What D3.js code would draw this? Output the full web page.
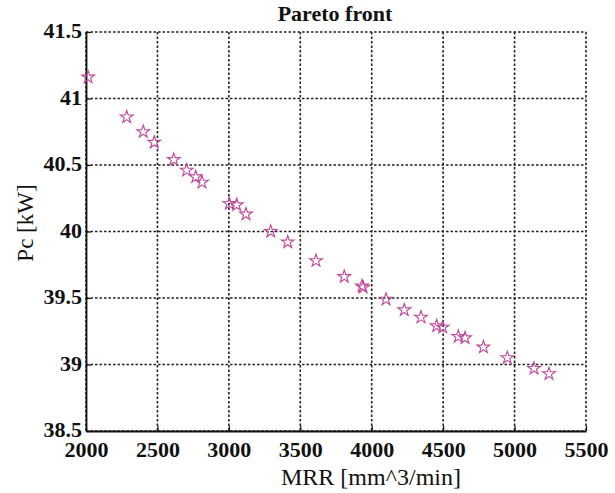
<!DOCTYPE html>
<html>
<head>
<meta charset="utf-8">
<script src="https://cdn.jsdelivr.net/npm/d3@7"></script>
<style>
body { margin: 0; background: #fff; }
text { font-family: "Liberation Serif", "Times New Roman", serif; fill: #111; }
</style>
</head>
<body>
<script>
var mrr = [2015, 2285, 2401, 2478, 2614, 2705, 2768, 2812, 3003, 3055, 3120,
           3293, 3412, 3610, 3808, 3932, 3940, 4100, 4228, 4345, 4455, 4497,
           4606, 4653, 4782, 4949, 5136, 5241];
var pc = [41.16, 40.86, 40.75, 40.67, 40.54, 40.46, 40.41, 40.37, 40.21, 40.20, 40.13,
          40.00, 39.92, 39.78, 39.66, 39.59, 39.58, 39.49, 39.41, 39.355, 39.29, 39.28,
          39.21, 39.20, 39.13, 39.05, 38.97, 38.93];
var xTicks = [2000, 2500, 3000, 3500, 4000, 4500, 5000, 5500];
var yTicks = [38.5, 39, 39.5, 40, 40.5, 41, 41.5];

var w = 615, h = 493;
var padL = 86, padR = 586, padT = 32, padB = 431;

var svg = d3.select("body").append("svg").attr("width", w).attr("height", h);

var x = d3.scaleLinear().domain([2000, 5500]).range([padL, padR]);
var y = d3.scaleLinear().domain([38.5, 41.5]).range([padB, padT]);

// dotted grid
svg.selectAll(".gx").data(xTicks).enter().append("line")
    .attr("x1", function(d) { return x(d); }).attr("x2", function(d) { return x(d); })
    .attr("y1", padT).attr("y2", padB)
    .attr("stroke", "#222").attr("stroke-width", 1.6).attr("stroke-dasharray", "2.5,2");
svg.selectAll(".gy").data(yTicks).enter().append("line")
    .attr("y1", function(d) { return y(d); }).attr("y2", function(d) { return y(d); })
    .attr("x1", padL).attr("x2", padR)
    .attr("stroke", "#222").attr("stroke-width", 1.6).attr("stroke-dasharray", "2.5,2");

// axes
var xAxis = d3.axisBottom(x).tickValues(xTicks).tickSizeInner(-5).tickSizeOuter(0).tickPadding(10)
    .tickFormat(d3.format("d"));
var yAxis = d3.axisLeft(y).tickValues(yTicks).tickSizeInner(-5).tickSizeOuter(0).tickPadding(4)
    .tickFormat(function(d) { return String(d); });

var gx = svg.append("g").attr("transform", "translate(0," + padB + ")").call(xAxis);
var gy = svg.append("g").attr("transform", "translate(" + padL + ",0)").call(yAxis);
[gx, gy].forEach(function(g) {
    g.select(".domain").attr("stroke", "#111").attr("stroke-width", 1.8);
    g.selectAll(".tick line").attr("stroke", "#111").attr("stroke-width", 1.2);
    g.selectAll(".tick text").attr("font-family", "Liberation Serif, serif")
        .attr("font-size", 22).attr("font-weight", "bold").attr("fill", "#111");
});
gy.selectAll(".tick text").attr("dy", "0.27em");

// stars
svg.selectAll(".pt").data(mrr).enter().append("path")
    .attr("d", d3.symbol().type(d3.symbolStar).size(50))
    .attr("transform", function(d, i) { return "translate(" + x(d) + "," + y(pc[i]) + ")"; })
    .attr("fill", "none").attr("stroke", "#c0469c").attr("stroke-width", 1.1);

// titles
svg.append("text").attr("x", 335).attr("y", 21).attr("text-anchor", "middle")
    .attr("font-size", 22).attr("font-weight", "bold").text("Pareto front");
svg.append("text").attr("x", 371).attr("y", 485).attr("text-anchor", "middle")
    .attr("font-size", 24).text("MRR [mm^3/min]");
svg.append("text").attr("transform", "translate(33,223) rotate(-90)").attr("text-anchor", "middle")
    .attr("font-size", 23).text("Pc [kW]");
</script>
</body>
</html>
